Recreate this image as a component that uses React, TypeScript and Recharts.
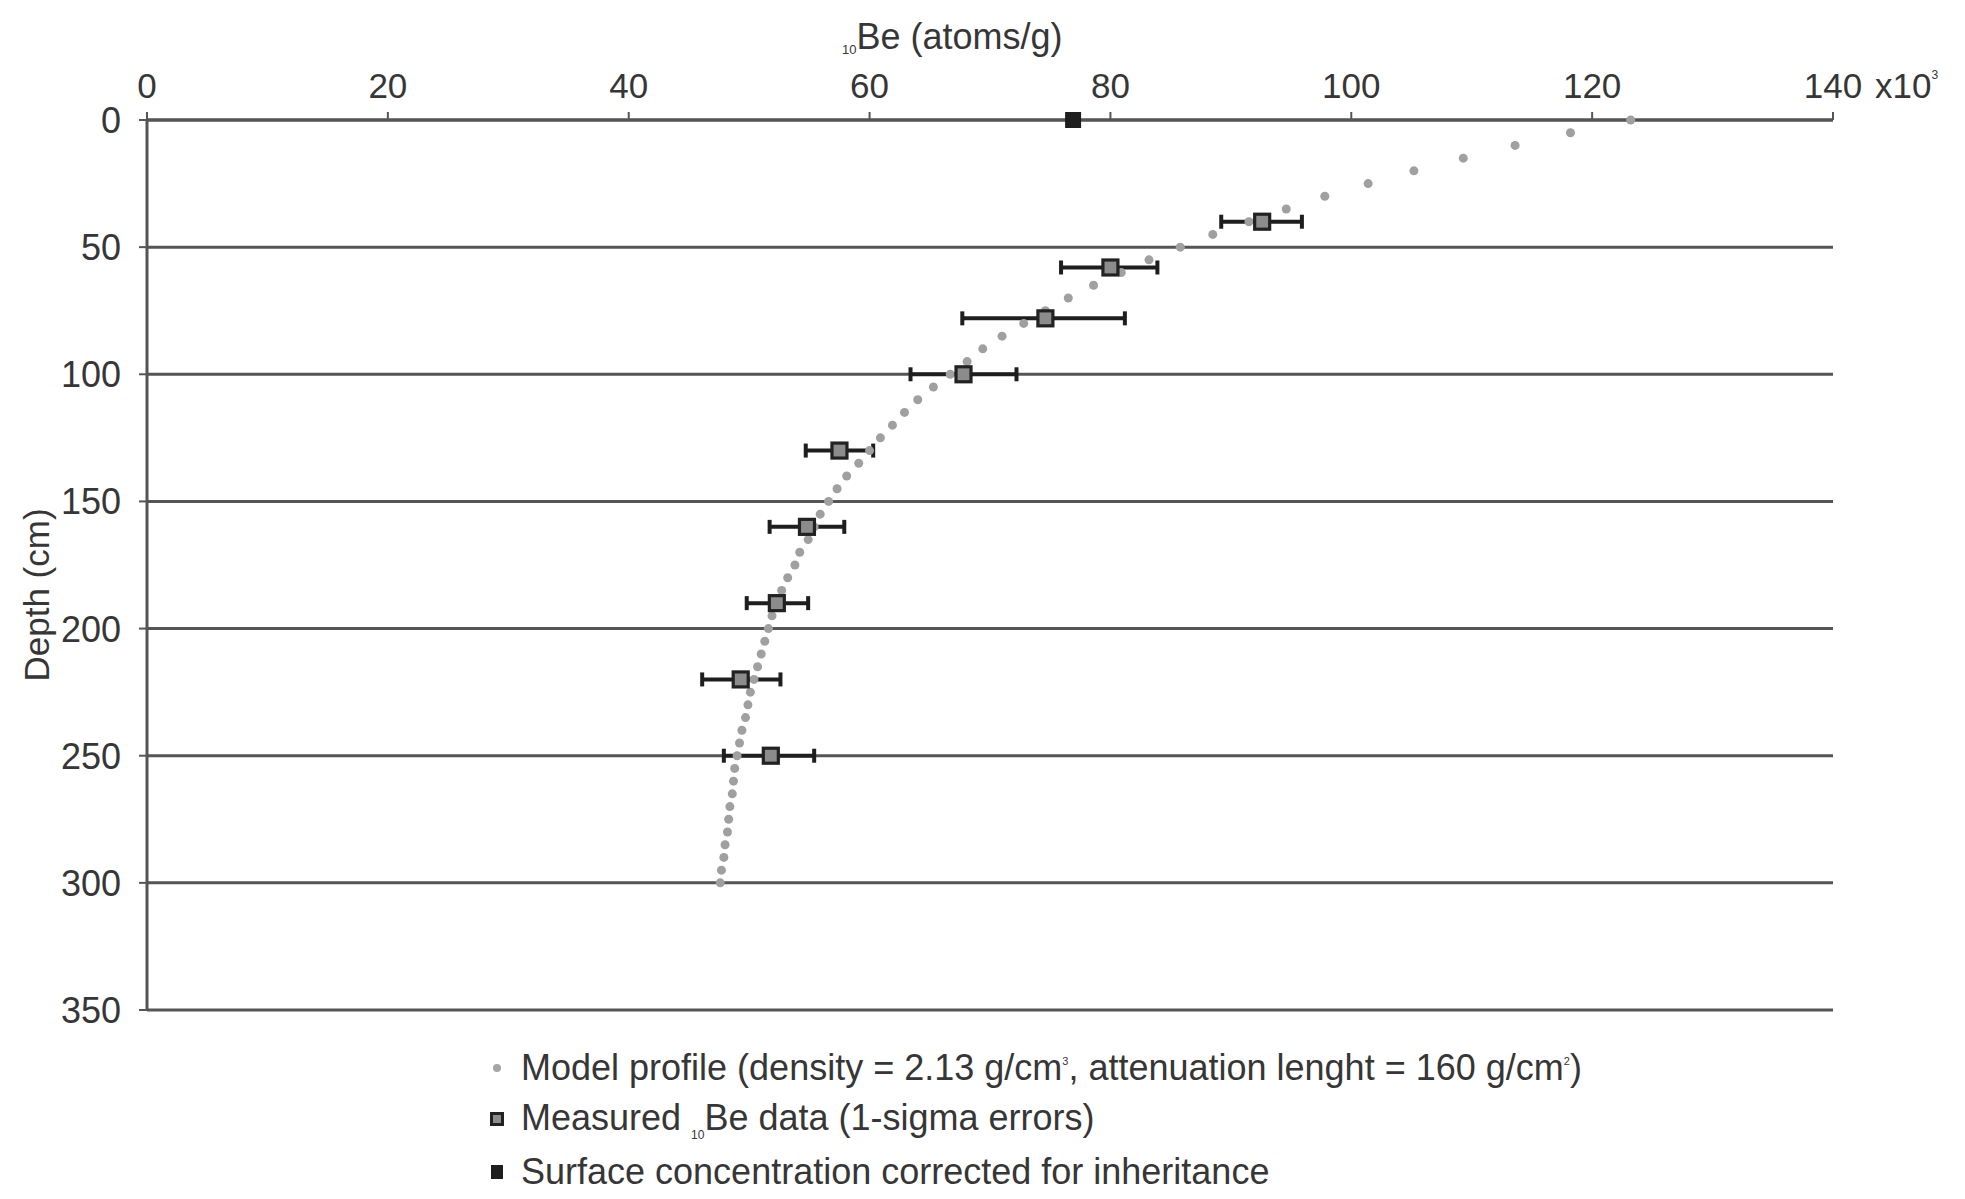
import React from 'react';
import {
  ScatterChart,
  Scatter,
  XAxis,
  YAxis,
  CartesianGrid,
  ErrorBar,
  Label,
} from 'recharts';

// model profile, read every 5 cm
const modelDepth = [
  0, 5, 10, 15, 20, 25, 30, 35, 40, 45, 50, 55, 60, 65, 70, 75, 80, 85, 90, 95,
  100, 105, 110, 115, 120, 125, 130, 135, 140, 145, 150, 155, 160, 165, 170,
  175, 180, 185, 190, 195, 200, 205, 210, 215, 220, 225, 230, 235, 240, 245,
  250, 255, 260, 265, 270, 275, 280, 285, 290, 295, 300,
];
const modelBe = [
  123.2, 118.2, 113.6, 109.3, 105.2, 101.4, 97.8, 94.6, 91.5, 88.5, 85.8, 83.2,
  80.9, 78.6, 76.5, 74.6, 72.8, 71.0, 69.4, 68.1, 66.7, 65.3, 64.0, 62.9, 61.9,
  60.9, 60.0, 59.1, 58.1, 57.3, 56.6, 55.9, 55.4, 54.9, 54.2, 53.8, 53.2, 52.7,
  52.3, 51.9, 51.6, 51.3, 51.0, 50.7, 50.4, 50.1, 49.9, 49.7, 49.4, 49.2, 49.0,
  48.8, 48.7, 48.6, 48.4, 48.3, 48.2, 48.0, 47.9, 47.7, 47.6,
];

// measured samples with 1-sigma range
const sampleDepth = [40, 58, 78, 100, 130, 160, 190, 220, 250];
const sampleBe = [92.6, 80.0, 74.6, 67.8, 57.5, 54.8, 52.3, 49.3, 51.8];
const sampleLow = [89.2, 75.9, 67.7, 63.4, 54.7, 51.7, 49.8, 46.1, 47.9];
const sampleHigh = [95.9, 83.9, 81.2, 72.2, 60.3, 57.9, 54.9, 52.6, 55.4];

const surfaceDepth = [0];
const surfaceBe = [76.9];

const xTicks = [0, 20, 40, 60, 80, 100, 120, 140];
const yTicks = [0, 50, 100, 150, 200, 250, 300, 350];

const FONT = '"Liberation Sans", Arial, sans-serif';
const TEXT = '#363636';
const GRID = '#555';

const modelData = modelDepth.map((d, i) => ({ depth: d, be: modelBe[i] }));
const sampleData = sampleDepth.map((d, i) => ({
  depth: d,
  be: sampleBe[i],
  err: [sampleBe[i] - sampleLow[i], sampleHigh[i] - sampleBe[i]],
}));
const surfaceData = surfaceDepth.map((d, i) => ({ depth: d, be: surfaceBe[i] }));

function TopTick(props: any) {
  const { x, y, payload } = props;
  return (
    <g>
      <text x={x} y={y} textAnchor="middle" fontSize={35} fill={TEXT} fontFamily={FONT}>
        {payload.value}
      </text>
      {payload.value === 140 && (
        <text x={x + 42} y={y} fontSize={35} fill={TEXT} fontFamily={FONT}>
          x10
          <tspan fontSize={12} dy={-19}>
            3
          </tspan>
        </text>
      )}
    </g>
  );
}

function LeftTick(props: any) {
  const { x, y, payload } = props;
  return (
    <text x={x} y={y} dy={13} textAnchor="end" fontSize={36} fill={TEXT} fontFamily={FONT}>
      {payload.value}
    </text>
  );
}

const modelShape = (p: any) => <circle cx={p.cx} cy={p.cy} r={4.5} fill="#a0a0a0" />;
const sampleShape = (p: any) => (
  <rect x={p.cx - 7.5} y={p.cy - 7.5} width={15} height={15} fill="#8c8c8c" stroke="#222" strokeWidth={3.2} />
);
const surfaceShape = (p: any) => (
  <rect x={p.cx - 8} y={p.cy - 8} width={16} height={16} fill="#1e1e1e" />
);

function LegendRow(props: { top: number; marker: React.ReactNode; children: React.ReactNode }) {
  return (
    <div
      style={{
        position: 'absolute',
        left: 477,
        top: props.top - 21,
        height: 42,
        display: 'flex',
        alignItems: 'center',
        whiteSpace: 'nowrap',
        fontFamily: FONT,
        fontSize: 36,
        color: TEXT,
      }}
    >
      <span style={{ width: 24, display: 'flex', justifyContent: 'center' }}>{props.marker}</span>
      <span style={{ marginLeft: 12 }}>{props.children}</span>
    </div>
  );
}

const sup = { fontSize: 11, verticalAlign: 15 } as React.CSSProperties;
const sub = { fontSize: 12, verticalAlign: -9 } as React.CSSProperties;

export default function App() {
  return (
    <div style={{ position: 'relative', width: 1957, height: 1191 }}>
      <ScatterChart
        width={1957}
        height={1191}
        margin={{ top: 52, right: 132, bottom: 189, left: 39 }}
      >
        <CartesianGrid horizontal vertical={false} stroke={GRID} strokeWidth={3} />
        <XAxis
          type="number"
          dataKey="be"
          orientation="top"
          domain={[0, 140]}
          ticks={xTicks}
          height={60}
          tickSize={8}
          tickMargin={14}
          axisLine={{ stroke: GRID, strokeWidth: 3 }}
          tickLine={{ stroke: GRID, strokeWidth: 2 }}
          tick={<TopTick />}
          interval={0}
        >
          <Label
            content={() => (
              <text x={834} y={41} fontSize={36} fill={TEXT} fontFamily={FONT}>
                <tspan fontSize={13} dy={5}>
                  10
                </tspan>
                <tspan dy={-5}>Be (atoms/g)</tspan>
              </text>
            )}
          />
        </XAxis>
        <YAxis
          type="number"
          dataKey="depth"
          reversed
          domain={[0, 350]}
          ticks={yTicks}
          width={100}
          tickSize={8}
          tickMargin={18}
          axisLine={{ stroke: GRID, strokeWidth: 3 }}
          tickLine={{ stroke: GRID, strokeWidth: 2 }}
          tick={<LeftTick />}
          interval={0}
        >
          <Label
            content={() => (
              <text
                x={29}
                y={587}
                dy={12}
                transform="rotate(-90 29 587)"
                textAnchor="middle"
                fontSize={35}
                fill={TEXT}
                fontFamily={FONT}
              >
                Depth (cm)
              </text>
            )}
          />
        </YAxis>
        <Scatter data={modelData} shape={modelShape} isAnimationActive={false} />
        <Scatter data={sampleData} shape={sampleShape} isAnimationActive={false}>
          <ErrorBar dataKey="err" direction="x" width={7} stroke="#1e1e1e" strokeWidth={4} />
        </Scatter>
        <Scatter data={surfaceData} shape={surfaceShape} isAnimationActive={false} />
      </ScatterChart>

      <LegendRow top={1060} marker={<span style={{ width: 8, height: 8, borderRadius: 4, background: '#a6a6a6' }} />}>
        Model profile (density = 2.13 g/cm<span style={sup}>3</span>, attenuation lenght = 160 g/cm
        <span style={sup}>2</span>)
      </LegendRow>
      <LegendRow
        top={1111}
        marker={
          <span
            style={{ width: 8, height: 8, background: '#8c8c8c', border: '3px solid #222', display: 'block' }}
          />
        }
      >
        Measured <span style={sub}>10</span>Be data (1-sigma errors)
      </LegendRow>
      <LegendRow top={1164} marker={<span style={{ width: 12, height: 14, background: '#1e1e1e', display: 'block' }} />}>
        Surface concentration corrected for inheritance
      </LegendRow>
    </div>
  );
}
